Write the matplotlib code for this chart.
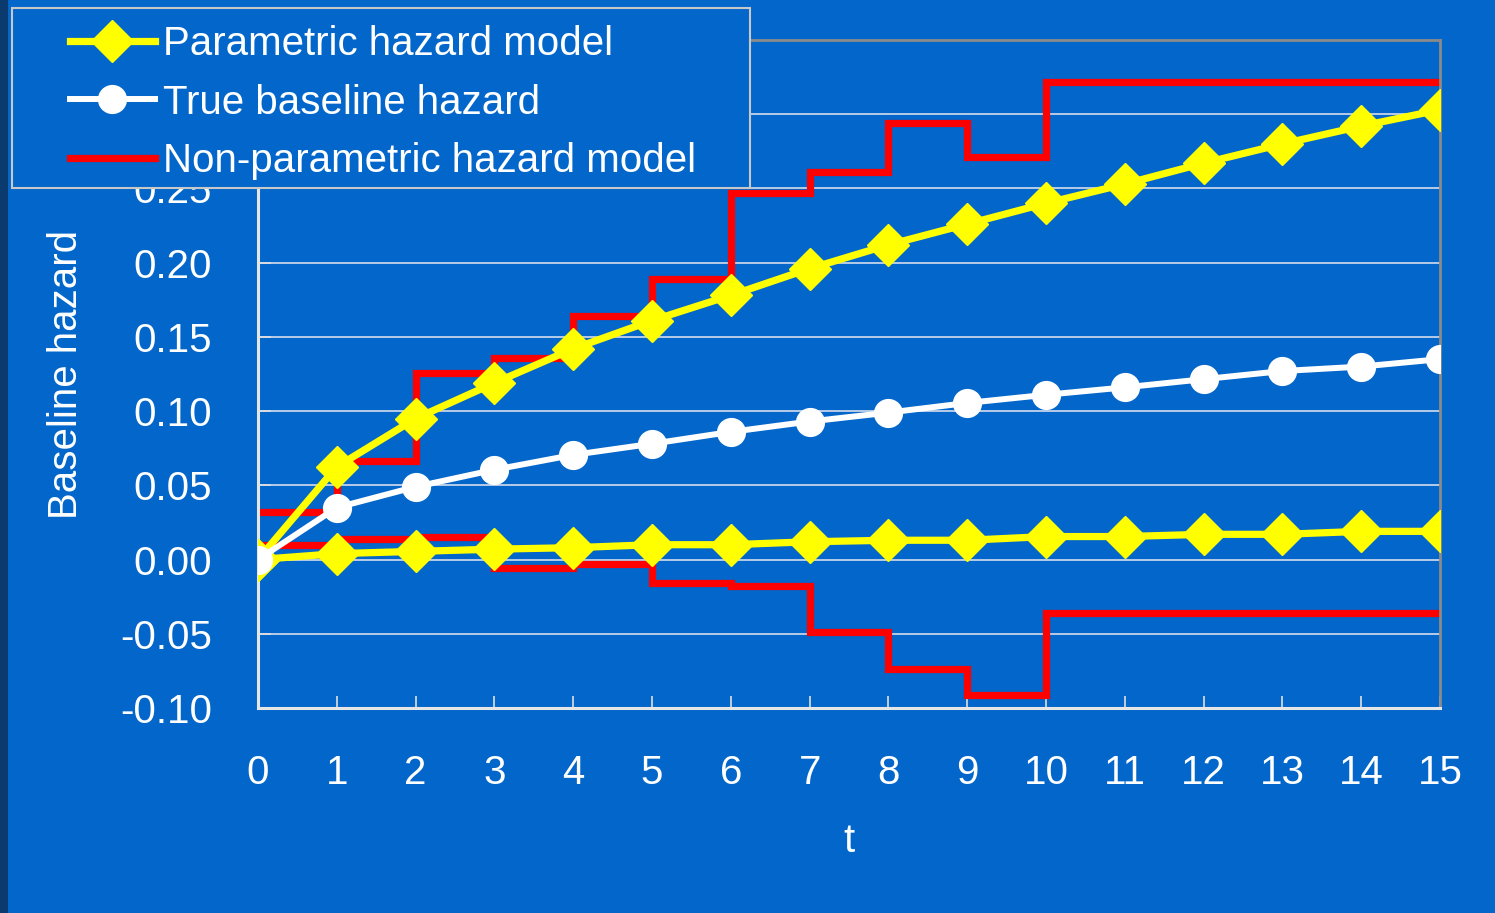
import matplotlib
matplotlib.use("Agg")
import matplotlib.pyplot as plt
from matplotlib.patches import Rectangle

plt.rcParams['font.family'] = ['Liberation Sans', 'DejaVu Sans']

# data
t = list(range(16))
param_upper = [0.000, 0.0625, 0.095, 0.119, 0.142, 0.161, 0.178, 0.196,
               0.212, 0.226, 0.240, 0.253, 0.267, 0.280, 0.292, 0.303]
param_lower = [0.000, 0.004, 0.0055, 0.007, 0.008, 0.010, 0.010, 0.012,
               0.013, 0.013, 0.0155, 0.0155, 0.017, 0.017, 0.019, 0.019]
true_hazard = [0.000, 0.035, 0.049, 0.0605, 0.0705, 0.078, 0.086, 0.093,
               0.099, 0.1055, 0.111, 0.116, 0.1215, 0.127, 0.130, 0.135]
# step values for the interval starting at each t (last one held to t=15)
nonpar_upper = [0.032, 0.0665, 0.126, 0.136, 0.164, 0.189, 0.247, 0.261,
                0.294, 0.271, 0.322, 0.322, 0.322, 0.322, 0.322, 0.322]
nonpar_lower = [0.010, 0.014, 0.0155, -0.006, -0.003, -0.016, -0.018, -0.049,
                -0.074, -0.091, -0.036, -0.036, -0.036, -0.036, -0.036, -0.036]
yticks = [-0.10, -0.05, 0.00, 0.05, 0.10, 0.15, 0.20, 0.25, 0.30, 0.35]
# 0.30 and 0.35 sit behind the legend box in the original
ytick_labels = ['-0.10', '-0.05', '0.00', '0.05', '0.10', '0.15', '0.20', '0.25', '', '']

BG = '#0366CA'
W, H = 1495, 913

fig = plt.figure(figsize=(W / 100, H / 100), dpi=100, facecolor=BG)
ax = fig.add_axes([258 / W, 1 - 708 / H, (1440 - 258) / W, (708 - 40) / H])
ax.set_facecolor(BG)

# dark strip at the left edge of the slide
fig.patches.append(Rectangle((0, 0), 8 / W, 1, transform=fig.transFigure,
                             facecolor='#0B3B6E', edgecolor='none', zorder=0))

red_kw = dict(where='post', color='#FF0000', lw=5.2, solid_joinstyle='miter',
              solid_capstyle='projecting', zorder=2)
ax.step(t, nonpar_upper, label='Non-parametric hazard model', **red_kw)
ax.step(t, nonpar_lower, **red_kw)

yel_kw = dict(color='#FFFF00', lw=5.2, marker='D', ms=21, mec='#FFFF00', zorder=3)
ax.plot(t, param_upper, label='Parametric hazard model', **yel_kw)
ax.plot(t, param_lower, **yel_kw)

ax.plot(t, true_hazard, color='white', lw=4.3, marker='o', ms=20, mec='white',
        zorder=4, label='True baseline hazard')

ax.set_xlim(0, 15)
ax.set_ylim(-0.10, 0.35)
ax.set_xticks(t)
ax.set_xticklabels([str(v) for v in t])
ax.set_yticks(yticks)
ax.set_yticklabels(ytick_labels)
ax.yaxis.grid(True, color='#D5DEEE', lw=1.2)
ax.set_axisbelow(True)

ax.tick_params(axis='both', direction='in', length=9, width=1.2, color='#E0E0E0',
               labelsize=29, labelcolor='white')
ax.tick_params(axis='x', pad=33)
ax.tick_params(axis='y', pad=33)

for side in ('left', 'bottom'):
    ax.spines[side].set_color('#E6E6E6')
    ax.spines[side].set_linewidth(2.2)
for side in ('top', 'right'):
    ax.spines[side].set_color('#8A8A8A')
    ax.spines[side].set_linewidth(2)

ax.set_xlabel('t', fontsize=29, color='white', labelpad=22)
ax.set_ylabel('Baseline hazard', fontsize=29, color='white', labelpad=25)

# legend box
ax.add_patch(Rectangle((12 / W, 1 - 188 / H), 738 / W, 180 / H,
                       transform=fig.transFigure, clip_on=False,
                       facecolor=BG, edgecolor='#C8C8C8', lw=1.5, zorder=6))
handles, labels = ax.get_legend_handles_labels()
order = [1, 2, 0]
leg = ax.legend([handles[i] for i in order], [labels[i] for i in order],
                loc='upper left', bbox_to_anchor=(70 / W, 1 - 25 / H),
                bbox_transform=fig.transFigure, frameon=False, borderpad=0,
                borderaxespad=0, handlelength=2.1, handletextpad=0.2,
                labelspacing=0.51, fontsize=29, labelcolor='white')
leg.set_zorder(7)

fig.savefig('out.png', dpi=100, facecolor=BG)
